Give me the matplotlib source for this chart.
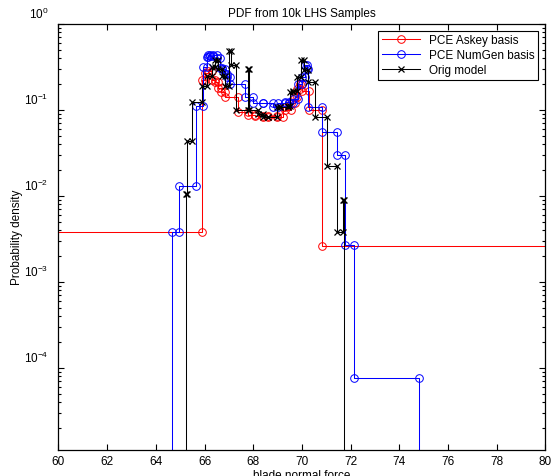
import numpy as np
import matplotlib
matplotlib.use("Agg")
import matplotlib.pyplot as plt
from matplotlib.ticker import LogLocator, NullFormatter, MultipleLocator
from matplotlib.transforms import ScaledTranslation

plt.rcParams['font.family'] = ['Liberation Sans', 'DejaVu Sans']

# ---- data (stairs points: left edge of each step, value of the step) ----
askey_x = [55.0, 65.90, 66.02, 66.14, 66.30, 66.43, 66.57, 66.68, 66.84, 67.39,
           67.80, 68.07, 68.41, 68.62, 68.97, 69.24, 69.31, 69.55, 69.72, 69.80,
           69.92, 69.99, 70.30, 70.81, 85.0]
askey_y = [0.0038, 0.22, 0.27, 0.28, 0.22, 0.21, 0.18, 0.16, 0.143, 0.095,
           0.088, 0.085, 0.082, 0.085, 0.082, 0.107, 0.10, 0.12, 0.14, 0.176,
           0.20, 0.168, 0.10, 0.0026, 0.0026]

numgen_x = [64.40, 64.68, 64.94, 65.64, 65.95, 66.09, 66.16, 66.23, 66.36, 66.50,
            66.64, 66.71, 66.84, 66.91, 67.05, 67.66, 68.00, 68.41, 68.83, 69.03,
            69.30, 69.45, 69.65, 69.85, 69.99, 70.13, 70.20, 70.26, 70.81, 71.45,
            71.77, 72.13, 74.81]
numgen_y = [0.0, 0.0038, 0.013, 0.11, 0.32, 0.41, 0.43, 0.42, 0.43, 0.40,
            0.31, 0.30, 0.26, 0.24, 0.20, 0.14, 0.12, 0.12, 0.107, 0.12,
            0.125, 0.12, 0.135, 0.20, 0.24, 0.33, 0.30, 0.107, 0.056, 0.030,
            0.0027, 7.5e-5, 0.0]

orig_x = [65.00, 65.22, 65.27, 65.49, 65.88, 66.09, 66.30, 66.43, 66.55, 66.70,
          66.84, 67.00, 67.10, 67.30, 67.78, 67.84, 68.21, 68.41, 68.62, 68.97,
          69.10, 69.44, 69.51, 69.65, 69.79, 69.97, 70.10, 70.26, 70.54, 71.02,
          71.43, 71.68, 71.71]
orig_y = [0.0, 0.0106, 0.044, 0.122, 0.19, 0.25, 0.315, 0.385, 0.30, 0.25,
          0.19, 0.49, 0.33, 0.10, 0.30, 0.10, 0.09, 0.082, 0.082, 0.107,
          0.107, 0.112, 0.16, 0.168, 0.24, 0.38, 0.288, 0.21, 0.0816, 0.022,
          0.0038, 0.009, 0.0]

series_labels = ['PCE Askey basis', 'PCE NumGen basis', 'Orig model']


def stair_vertices(x, y):
    x = np.asarray(x, float)
    y = np.asarray(y, float)
    xs = np.repeat(x, 2)[1:]
    ys = np.repeat(y, 2)[:-1]
    return xs, ys


fig = plt.figure(figsize=(5.52, 4.76), dpi=100)
ax = fig.add_axes([0.1058, 0.0546, 0.8824, 0.8950])
ax.set_yscale('log', nonpositive='clip')

styles = [
    dict(color='red', marker='o', mfc='none', ms=5.5, mew=0.7, lw=0.75),
    dict(color='blue', marker='o', mfc='none', ms=5.5, mew=0.7, lw=0.75),
    dict(color='black', marker='x', ms=4.5, mew=0.9, lw=0.75),
]
for (sx, sy), lab, st in zip([(askey_x, askey_y), (numgen_x, numgen_y), (orig_x, orig_y)],
                             series_labels, styles):
    xs, ys = stair_vertices(sx, sy)
    ax.plot(xs, ys, label=lab, **st)

ax.set_xlim(60, 80)
ax.set_ylim(1.1e-5, 1)
ax.xaxis.set_major_locator(MultipleLocator(2))
ax.yaxis.set_major_locator(LogLocator(base=10, numticks=10))
ax.yaxis.set_minor_locator(LogLocator(base=10, subs=np.arange(2, 10), numticks=20))
ax.yaxis.set_minor_formatter(NullFormatter())
ax.tick_params(which='both', direction='in', top=True, right=True, labelsize=8.5, width=0.8)
ax.tick_params(which='major', length=4.5)
ax.tick_params(which='minor', length=2.5)
ax.tick_params(axis='x', pad=4)
ax.tick_params(axis='y', pad=7)
for s in ax.spines.values():
    s.set_linewidth(0.9)

# MATLAB-style exponent labels sit slightly above their ticks
shift = ScaledTranslation(0, 8 / 72, fig.dpi_scale_trans)
for lbl in ax.get_yticklabels():
    lbl.set_transform(lbl.get_transform() + shift)

ax.set_title('PDF from 10k LHS Samples', fontsize=8.5, pad=5)
ax.set_xlabel('blade normal force', fontsize=8.5, labelpad=2)
ax.set_ylabel('Probability density', fontsize=8.5, labelpad=1)

leg = ax.legend(loc='upper right', fontsize=8.5, frameon=True, fancybox=False,
                edgecolor='black', framealpha=1, handlelength=3.2,
                borderaxespad=0.6, borderpad=0.3, labelspacing=0.25)
leg.get_frame().set_linewidth(0.8)

fig.savefig('out.png', dpi=100)
